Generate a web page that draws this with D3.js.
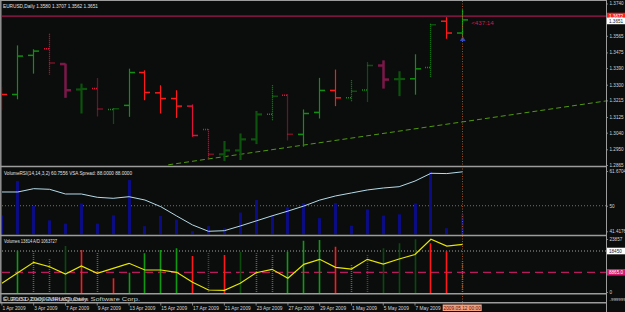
<!DOCTYPE html>
<html>
<head>
<meta charset="utf-8">
<script src="https://cdn.jsdelivr.net/npm/d3@7"></script>
<style>
body { margin: 0; background: #0b0d0d; }
svg { display: block; }
text { font-family: "Liberation Sans", Arial, sans-serif; }
</style>
</head>
<body>
<svg id="chart" width="625" height="312"></svg>
<script>
// daily bars, EURUSD 1 Apr - 12 May 2009
const dates = ["1 Apr 2009","2 Apr 2009","3 Apr 2009","6 Apr 2009","7 Apr 2009","8 Apr 2009","9 Apr 2009","10 Apr 2009",
  "13 Apr 2009","14 Apr 2009","15 Apr 2009","16 Apr 2009","17 Apr 2009","20 Apr 2009","21 Apr 2009","22 Apr 2009",
  "23 Apr 2009","24 Apr 2009","27 Apr 2009","28 Apr 2009","29 Apr 2009","30 Apr 2009","1 May 2009","4 May 2009",
  "5 May 2009","6 May 2009","7 May 2009","8 May 2009","11 May 2009","12 May 2009"];
const opens  = [1.3281,1.3247,1.3459,1.3495,1.3412,1.3274,1.3279,1.3166,1.3188,1.3366,1.3256,1.3225,1.3184,1.3058,1.2923,
  1.2944,1.3004,1.3140,1.3243,1.3031,1.3150,1.3269,1.3229,1.3272,1.3404,1.3330,1.3332,1.3393,1.3644,1.3580];
const highs  = [1.3288,1.3513,1.3492,1.3576,1.3414,1.3306,1.3333,1.3171,1.3387,1.3378,1.3297,1.3270,1.3193,1.3059,1.2995,
  1.3036,1.3158,1.3297,1.3247,1.3166,1.3337,1.3382,1.3324,1.3420,1.3432,1.3373,1.3465,1.3630,1.3666,1.3707];
const lows   = [1.3162,1.3221,1.3360,1.3355,1.3229,1.3144,1.3126,1.3090,1.3126,1.3216,1.3144,1.3120,1.3018,1.2897,1.2887,
  1.2892,1.2978,1.3108,1.2996,1.2964,1.3117,1.3184,1.3211,1.3207,1.3279,1.3238,1.3246,1.3342,1.3549,1.3562];
const closes = [1.3247,1.3455,1.3482,1.3418,1.3270,1.3277,1.3169,1.3170,1.3366,1.3258,1.3225,1.3184,1.3025,1.2923,1.2944,
  1.3004,1.3139,1.3238,1.3032,1.3144,1.3269,1.3229,1.3265,1.3404,1.3328,1.3331,1.3386,1.3625,1.3580,1.3651];
// VSA bar class: G up, D up/dark, g up/dotted, R down, C down/crimson, r down/dotted, M down/maroon
const barClass = ["R","G","G","r","M","D","r","g","G","R","R","R","C","r","D","D","D","g","r","G","G","R","g","g","M","D","G","g","R","G"];

const priceTicks = [1.3740,1.3565,1.3475,1.3390,1.3300,1.3215,1.3125,1.3040,1.2950,1.2865];
const priceLine = 1.3672;
const bidPrice = 1.3651;
const trendPoints = [[10.5, 1.2866], [38.05, 1.3212]];

// VolumeRSI(14,14,3,2) line and VSA spread histogram (spread as % of panel)
const volumeRsi = [54.62,54.62,55.73,55.52,53.95,53.95,52.84,52.50,53.04,51.93,49.68,46.56,43.54,41.42,41.62,
  43.2,44.9,46.6,48.2,49.9,51.9,53.3,54.3,55.3,55.96,56.4,58.3,60.9,60.8,61.4];
const vsaSpread = [30.5,85.1,45.4,22.5,17.2,49.3,17.2,30.5,86.7,13.3,29.4,23.6,5.3,13.3,10,
  35,55,30,43,50,26,50,14,40,30,32.1,49.3,100,10.1,32.1];
const rsiTicks = [61.6704, 50, 41.4176];

// Volumes and A/D
const volumes = [null,18585,18900,14715,20700,18900,17685,6165,8685,17415,18900,19665,16200,18135,16650,
  18135,17415,17100,18135,23085,23400,20385,12150,16650,19665,21915,23715,21915,18450,13814];
const volClass = ["R","G","r","r","D","R","r","R","G","G","G","G","R","g","R",
  "D","r","r","G","G","G","R","r","g","D","D","D","R","R","r"];
const adLine = [3915,8685,13365,11385,8100,11700,8415,10665,12915,9900,9900,8865,4365,900,765,
  3915,8685,10215,6165,12465,14715,11115,10350,14715,12600,14850,16875,23715,20700,21465];
const volMax = 23857;
const volLevelHigh = 18450;
const volLevelMid = 8865;

const svg = d3.select("#chart");
const plotL = 2, plotR = 606;
const gray = "#9c9c9c";

svg.append("rect").attr("width", 625).attr("height", 312).attr("fill", "#0b0d0d");

const x = d3.scaleLinear().domain([0, dates.length - 1]).range([1.4, 462.2]);
const yP = d3.scaleLinear().domain([1.2865, 1.3740]).range([165, 3.5]);
const yRsi = d3.scaleLinear().domain([41.4176, 61.6704]).range([231.3, 171]);
const ySpread = d3.scaleLinear().domain([0, 100]).range([234.5, 171.7]);
const yVol = d3.scaleLinear().domain([0, volMax]).range([292, 239]);

function clip(id, y0, y1) {
  svg.append("clipPath").attr("id", id).append("rect")
    .attr("x", plotL).attr("y", y0).attr("width", plotR - plotL).attr("height", y1 - y0);
}
clip("cMain", 1, 166);
clip("cRsi", 168, 234.5);
clip("cVol", 236.5, 293);

const styles = {
  G: { c: "#109010", w: 1.2, dash: null },
  D: { c: "#0d520d", w: 2.2, dash: null },
  g: { c: "#109010", w: 1.2, dash: "1,1" },
  R: { c: "#ff1a1a", w: 1.2, dash: null },
  C: { c: "#dc143c", w: 1.2, dash: null },
  r: { c: "#dc143c", w: 1.2, dash: "1,1" },
  M: { c: "#7d1748", w: 2.5, dash: null }
};

// ---- main panel ----
const main = svg.append("g").attr("clip-path", "url(#cMain)");

main.append("line")
  .attr("x1", plotL).attr("x2", plotR)
  .attr("y1", yP(priceLine)).attr("y2", yP(priceLine))
  .attr("stroke", "#a3194f").attr("stroke-width", 1.2);

main.append("path")
  .attr("d", d3.line().x(d => x(d[0])).y(d => yP(d[1]))(trendPoints))
  .attr("fill", "none").attr("stroke", "#4f9a0e").attr("stroke-width", 1)
  .attr("stroke-dasharray", "5,3");

const bars = main.selectAll("g.bar").data(d3.range(dates.length)).join("g").attr("class", "bar");
bars.each(function (i) {
  const s = styles[barClass[i]];
  const g = d3.select(this);
  const cx = Math.round(x(i)) + 0.5;
  g.append("line").attr("x1", cx).attr("x2", cx)
    .attr("y1", yP(highs[i])).attr("y2", yP(lows[i]))
    .attr("stroke", s.c).attr("stroke-width", s.w).attr("stroke-dasharray", s.dash);
  g.append("line").attr("x1", cx - 5.5).attr("x2", cx)
    .attr("y1", yP(opens[i])).attr("y2", yP(opens[i]))
    .attr("stroke", s.c).attr("stroke-width", Math.max(1.5, s.w)).attr("stroke-dasharray", s.dash);
  g.append("line").attr("x1", cx).attr("x2", cx + 5.5)
    .attr("y1", yP(closes[i])).attr("y2", yP(closes[i]))
    .attr("stroke", s.c).attr("stroke-width", Math.max(1.5, s.w)).attr("stroke-dasharray", s.dash);
});

// arrow under the last bar
const last = dates.length - 1;
main.append("path")
  .attr("d", d3.symbol().type(d3.symbolTriangle).size(14)())
  .attr("transform", `translate(${x(last) + 0.5},${yP(lows[last]) + 3})`)
  .attr("fill", "#2a48c8");

main.append("text").attr("x", x(last) + 9).attr("y", yP(bidPrice) + 5)
  .attr("fill", "#c81e50").attr("font-size", 6.2).text("<437:14");

svg.append("text").attr("x", 3).attr("y", 7.5).attr("fill", "#e0e0e0").attr("font-size", 4.6)
  .attr("textLength", 95).attr("lengthAdjust", "spacingAndGlyphs")
  .text(`EURUSD,Daily  ${opens[last].toFixed(4)} ${highs[last].toFixed(4)} ${lows[last].toFixed(4)} ${closes[last].toFixed(4)}`);

// ---- VolumeRSI panel ----
const rsi = svg.append("g").attr("clip-path", "url(#cRsi)");
rsi.append("line").attr("x1", plotL).attr("x2", plotR)
  .attr("y1", yRsi(50)).attr("y2", yRsi(50))
  .attr("stroke", "#8a8a8a").attr("stroke-width", 0.8).attr("stroke-dasharray", "1,2");
rsi.selectAll("rect.sp").data(vsaSpread).join("rect").attr("class", "sp")
  .attr("x", (d, i) => Math.round(x(i)) - 1)
  .attr("y", d => ySpread(d))
  .attr("width", 3)
  .attr("height", d => ySpread(0) - ySpread(d))
  .attr("fill", "#0c0c82");
rsi.append("path")
  .attr("d", d3.line().x((d, i) => x(i) + 0.5).y(d => yRsi(d))(volumeRsi))
  .attr("fill", "none").attr("stroke", "#b6dbe8").attr("stroke-width", 1);
svg.append("text").attr("x", 4).attr("y", 175).attr("fill", "#e0e0e0").attr("font-size", 4.6)
  .attr("textLength", 128).attr("lengthAdjust", "spacingAndGlyphs")
  .text("VolumeRSI(14,14,3,2) 60.7556  VSA Spread: 88.0000 88.0000");

// ---- Volumes panel ----
const vol = svg.append("g").attr("clip-path", "url(#cVol)");
vol.append("line").attr("x1", plotL).attr("x2", plotR)
  .attr("y1", yVol(volLevelHigh)).attr("y2", yVol(volLevelHigh))
  .attr("stroke", "#c8c8c8").attr("stroke-width", 0.8).attr("stroke-dasharray", "1,2");
vol.append("line").attr("x1", plotL).attr("x2", plotR)
  .attr("y1", yVol(volLevelMid)).attr("y2", yVol(volLevelMid))
  .attr("stroke", "#b81a5c").attr("stroke-width", 1.3).attr("stroke-dasharray", "8,5");
const volStyles = {
  G: { c: "#119a11", dash: null },
  D: { c: "#0a4a0a", dash: null },
  g: { c: "#0c6a0c", dash: "1,1" },
  R: { c: "#ff1a1a", dash: null },
  r: { c: "#ff1a1a", dash: "1,1" }
};
vol.selectAll("line.v").data(volumes.map((v, i) => [v, i]).filter(d => d[0] != null)).join("line")
  .attr("class", "v")
  .attr("x1", d => Math.round(x(d[1])) + 0.5).attr("x2", d => Math.round(x(d[1])) + 0.5)
  .attr("y1", yVol(0) + 2).attr("y2", d => yVol(d[0]))
  .attr("stroke", d => volStyles[volClass[d[1]]].c)
  .attr("stroke-width", 1.6)
  .attr("stroke-dasharray", d => volStyles[volClass[d[1]]].dash);
vol.append("path")
  .attr("d", d3.line().x((d, i) => x(i) + 0.5).y(d => yVol(d))(adLine))
  .attr("fill", "none").attr("stroke", "#e6e600").attr("stroke-width", 1.2);
svg.append("text").attr("x", 4).attr("y", 242.5).attr("fill", "#e0e0e0").attr("font-size", 4.6)
  .attr("textLength", 53).attr("lengthAdjust", "spacingAndGlyphs")
  .text("Volumes 13814  A/D 1063727");

// current bar marker
svg.append("line").attr("x1", Math.round(x(last)) + 0.5).attr("x2", Math.round(x(last)) + 0.5)
  .attr("y1", 1).attr("y2", 305)
  .attr("stroke", "#b8642c").attr("stroke-width", 0.8).attr("stroke-dasharray", "1,1.5");

// ---- frames ----
const frame = svg.append("g").attr("stroke", gray).attr("fill", "none");
[0.5, 166.5, 235.5, 293.8, 302.8].forEach(yy => {
  frame.append("line").attr("x1", 0).attr("x2", plotR).attr("y1", yy).attr("y2", yy)
    .attr("stroke-width", yy < 1 ? 1 : 1.6);
});
frame.append("line").attr("x1", 0.8).attr("x2", 0.8).attr("y1", 0).attr("y2", 303).attr("stroke-width", 1.4);
frame.append("line").attr("x1", plotR + 0.5).attr("x2", plotR + 0.5).attr("y1", 0).attr("y2", 312).attr("stroke-width", 1);

svg.append("text").attr("x", 3).attr("y", 300.5).attr("fill", "#c8c8c8").attr("font-size", 5.2)
  .attr("textLength", 137).attr("lengthAdjust", "spacingAndGlyphs")
  .text("© 2001-2009 MetaQuotes Software Corp.");
svg.append("text").attr("x", 3).attr("y", 300.5).attr("fill", "#c8c8c8").attr("font-size", 5.2)
  .attr("textLength", 84).attr("lengthAdjust", "spacingAndGlyphs")
  .text("EURUSD,Daily EURUSD,Daily");

// ---- right axes ----
function styleAxis(g) {
  g.select(".domain").remove();
  g.selectAll(".tick line").attr("stroke", gray).attr("stroke-width", 0.8);
  g.selectAll(".tick text").attr("fill", "#d4d4d4").attr("font-size", 4.6)
    .attr("font-family", "Liberation Sans, Arial, sans-serif").attr("x", 3.5);
}
svg.append("g").attr("transform", `translate(${plotR},0)`)
  .call(d3.axisRight(yP).tickValues(priceTicks).tickFormat(d3.format(".4f")).tickSize(2))
  .call(styleAxis);
svg.append("g").attr("transform", `translate(${plotR},0)`)
  .call(d3.axisRight(yRsi).tickValues(rsiTicks).tickFormat(d => d === 50 ? "50" : d.toFixed(4)).tickSize(2))
  .call(styleAxis);
svg.append("g").attr("transform", `translate(${plotR},0)`)
  .call(d3.axisRight(yVol).tickValues([volMax, 0]).tickFormat(d3.format("d")).tickSize(2))
  .call(styleAxis);
svg.append("text").attr("x", plotR + 3.5).attr("y", 301).attr("fill", "#d4d4d4").attr("font-size", 4.4).text("-999999");

function axisBox(yy, label, bg, fg) {
  svg.append("rect").attr("x", plotR + 1).attr("y", yy - 3.3).attr("width", 19).attr("height", 6.6).attr("fill", bg);
  svg.append("text").attr("x", plotR + 3).attr("y", yy + 1.7).attr("fill", fg).attr("font-size", 4.6).text(label);
}
axisBox(yP(priceLine), priceLine.toFixed(4), "#ff2020", "#ffffff");
axisBox(yP(bidPrice) + 1, bidPrice.toFixed(4), "#ffffff", "#202020");
axisBox(yVol(volLevelHigh), String(volLevelHigh), "#ffffff", "#202020");
axisBox(yVol(volLevelMid), volLevelMid.toFixed(1), "#d41a6a", "#ffffff");

// ---- date axis (labels every second bar, the current bar gets the stamp box) ----
const xAxis = svg.append("g").attr("transform", "translate(0,303)")
  .call(d3.axisBottom(x).tickValues(d3.range(0, last - 1, 2)).tickFormat(i => dates[i]).tickSize(2.5));
xAxis.select(".domain").remove();
xAxis.selectAll(".tick line").attr("stroke", gray).attr("stroke-width", 0.8);
xAxis.selectAll(".tick text").attr("fill", "#d4d4d4").attr("font-size", 4.8)
  .attr("font-family", "Liberation Sans, Arial, sans-serif")
  .attr("text-anchor", "start").attr("dx", 0.5).attr("y", 3).attr("dy", "0.9em");

const stamp = "2009.05.12 00:00";
svg.append("rect").attr("x", x(last) - 19.5).attr("y", 304.5).attr("width", 39).attr("height", 6.5).attr("fill", "#f4a17c");
svg.append("text").attr("x", x(last)).attr("y", 309.8).attr("text-anchor", "middle")
  .attr("fill", "#5a1010").attr("font-size", 4.8).text(stamp);
</script>
</body>
</html>
